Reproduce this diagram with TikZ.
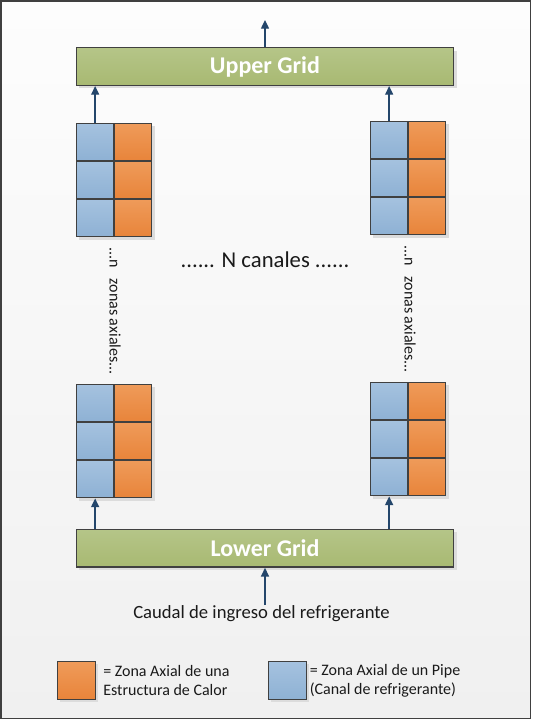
\documentclass[tikz,border=0pt]{standalone}
\usepackage{fontspec}
\setmainfont{Carlito}
\usetikzlibrary{arrows.meta}
\definecolor{linec}{HTML}{404040}
\definecolor{arrc}{HTML}{24466B}
\definecolor{bluetop}{HTML}{A5C2DF}
\definecolor{bluebot}{HTML}{8EB1D4}
\definecolor{orangetop}{HTML}{EF9B5A}
\definecolor{orangebot}{HTML}{E8843A}
\definecolor{greentop}{HTML}{B5C588}
\definecolor{greenbot}{HTML}{A8B972}
\definecolor{shadowc}{HTML}{DCDCDC}
\definecolor{bgtop}{HTML}{FDFDFD}
\definecolor{bgbot}{HTML}{F0F0F0}
\definecolor{txt}{HTML}{1A1A1A}
\tikzset{
  bluecell/.style={draw=linec, line width=1.1pt, top color=bluetop, bottom color=bluebot,
    minimum width=28.3pt, minimum height=28.35pt, inner sep=0pt},
  orangecell/.style={draw=linec, line width=1.1pt, top color=orangetop, bottom color=orangebot,
    minimum width=28.3pt, minimum height=28.35pt, inner sep=0pt},
  gridbox/.style={draw=linec, line width=1.1pt, top color=greentop, bottom color=greenbot,
    minimum width=283pt, minimum height=28.2pt, inner sep=0pt,
    text=white, font=\fontsize{18}{21}\selectfont\bfseries},
  arr/.style={draw=arrc, line width=1pt, -{Triangle[width=6pt,length=6.5pt]}},
  lbl/.style={text=txt, font=\fontsize{12}{14.4}\selectfont, inner sep=0pt},
  biglbl/.style={text=txt, font=\fontsize{14}{16.8}\selectfont, inner sep=0pt},
  vlbl/.style={text=txt, font=\fontsize{12}{14.4}\selectfont, inner sep=0pt, rotate=-90},
  legbox/.style={draw=linec, line width=1.1pt, minimum width=28.8pt, minimum height=28.8pt, inner sep=0pt},
}
\newcommand\colcells[3]{%
  \fill[shadowc] (#2+3,#3+3) rectangle ++(75.4,113.4);
  \foreach \r in {1,2,3}{
    \node[bluecell] (#1b\r) at (#2+18.85, #3+37.8*\r-18.9) {};
    \node[orangecell] (#1o\r) at (#2+56.55, #3+37.8*\r-18.9) {};
  }}
\begin{document}
\begin{tikzpicture}[x=0.75pt,y=-0.75pt]
\useasboundingbox (0,0) rectangle (532,721);
\shade[top color=bgtop, bottom color=bgbot] (1,1) rectangle (530.5,718.5);
\draw[linec, line width=1.3pt] (1,1) rectangle (530.5,718.5);

% grids
\fill[shadowc] (79.3,50.7) rectangle ++(377.4,37.6);
\node[gridbox] (ug) at (265,66.5) {Upper Grid};
\fill[shadowc] (79.3,532.3) rectangle ++(377.4,37.6);
\node[gridbox] (lg) at (265,548.3) {Lower Grid};

% columns
\colcells{lu}{76.3}{123.3}
\colcells{ru}{370.3}{121.3}
\colcells{ll}{76.3}{384.3}
\colcells{rl}{370.3}{382.3}

% arrows
\coordinate (topend) at (265,20);
\draw[arr] (ug.north) -- (topend);
\draw[arr] (lub1.north) -- (lub1.north |- ug.south);
\draw[arr] (rub1.north) -- (rub1.north |- ug.south);
\draw[arr] (llb3.south |- lg.north) -- (llb3.south);
\draw[arr] (rlb3.south |- lg.north) -- (rlb3.south);

% texts
\node[text=txt, font=\fontsize{17}{20.4}\selectfont, inner sep=0pt] (canales) at (265,260) {...... N canales ......};
\node[vlbl] (lza) at (115,311) {...n\ \ \ zonas axiales...};
\node[vlbl] (rza) at (410,309) {...n\ \ \ zonas axiales...};
\node[biglbl] (cap) at (261.5,614) {Caudal de ingreso del refrigerante};
\coordinate (capin) at (265,605);
\draw[arr] (capin) -- (lg.south);

% legend
\fill[shadowc] (59.5,663.5) rectangle ++(38.4,38.4);
\node[legbox, top color=orangetop, bottom color=orangebot] (lo) at (76.5,680.5) {};
\node[lbl, anchor=west, align=left] (lot) at (103,680.5) {= Zona Axial de una\\Estructura de Calor};
\fill[shadowc] (270.5,663.5) rectangle ++(38.4,38.4);
\node[legbox, top color=bluetop, bottom color=bluebot] (lb) at (287.5,680.5) {};
\node[lbl, anchor=west, align=left] (lbt) at (309.5,680.5) {= Zona Axial de un Pipe\\(Canal de refrigerante)};
\end{tikzpicture}
\end{document}
